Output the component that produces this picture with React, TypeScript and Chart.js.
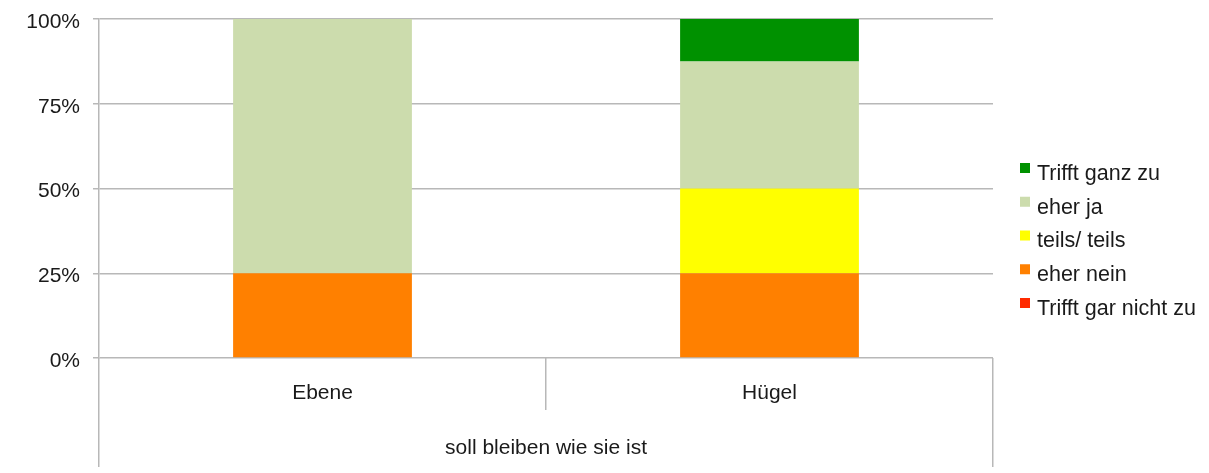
import React, { useEffect, useRef } from "react";
import { Chart, registerables } from "chart.js";

Chart.register(...registerables);

const categories = ["Ebene", "Hügel"];
const groupLabel = "soll bleiben wie sie ist";
const seriesNames = ["Trifft gar nicht zu", "eher nein", "teils/ teils", "eher ja", "Trifft ganz zu"];
const trifftGarNicht = [0, 0];
const eherNein = [25, 25];
const teilsTeils = [0, 25];
const eherJa = [75, 37.5];
const trifftGanz = [0, 12.5];
const seriesColors = ["#ff2a00", "#ff8000", "#ffff00", "#ccdcad", "#009100"];
const yTicks = [0, 25, 50, 75, 100];

const FONT = "'Liberation Sans', Arial, Helvetica, sans-serif";
const TEXT = "#1a1a1a";
const GRID = "#b8b8b8";

const legendPlugin = {
  id: "customLegend",
  afterDraw(chart: any) {
    const ctx = chart.ctx;
    const ds = chart.data.datasets;
    ctx.save();
    ctx.font = `21.5px ${FONT}`;
    ctx.textBaseline = "middle";
    ctx.textAlign = "left";
    const n = ds.length;
    for (let i = 0; i < n; i++) {
      const d = ds[n - 1 - i];
      const cy = 172 + i * 33.75;
      ctx.fillStyle = d.backgroundColor;
      ctx.fillRect(1020, cy - 9, 10, 10);
      ctx.fillStyle = TEXT;
      ctx.fillText(d.label, 1037, cy + 2);
    }
    ctx.restore();
  },
};

export default function App() {
  const ref = useRef<HTMLCanvasElement | null>(null);
  useEffect(() => {
    if (!ref.current) return;
    Chart.defaults.font.family = FONT;
    Chart.defaults.font.size = 21;
    Chart.defaults.color = TEXT;
    const values = [trifftGarNicht, eherNein, teilsTeils, eherJa, trifftGanz];
    const chart = new Chart(ref.current, {
      type: "bar",
      data: {
        labels: categories,
        datasets: seriesNames.map((name, i) => ({
          label: name,
          data: values[i],
          backgroundColor: seriesColors[i],
          borderWidth: 0,
          categoryPercentage: 1,
          barPercentage: 0.4,
        })),
      },
      options: {
        animation: false,
        responsive: true,
        maintainAspectRatio: false,
        layout: { padding: { top: 19, right: 216, bottom: 6, left: 0 } },
        plugins: { legend: { display: false }, tooltip: { enabled: false } },
        scales: {
          x: {
            stacked: true,
            weight: 0,
            offset: true,
            grid: { offset: true, drawOnChartArea: false, tickLength: 52, color: GRID, lineWidth: 1.5 },
            border: { display: false },
            ticks: { padding: -29, font: { size: 21 } },
            afterFit: (s: any) => { s.height = 52; s.paddingLeft = 0; s.paddingRight = 0; },
          },
          x2: {
            type: "category",
            labels: [groupLabel],
            position: "bottom",
            weight: 1,
            offset: true,
            grid: { offset: true, drawOnChartArea: false, tickLength: 57, color: GRID, lineWidth: 1.5 },
            border: { display: false },
            ticks: { padding: -31, font: { size: 21 } },
            afterFit: (s: any) => { s.height = 57; s.paddingLeft = 0; s.paddingRight = 0; },
          },
          y: {
            stacked: true,
            min: 0,
            max: 100,
            afterBuildTicks: (s: any) => { s.ticks = yTicks.map((v) => ({ value: v })); },
            ticks: { padding: 13, labelOffset: 3, callback: (v: any) => v + "%", font: { size: 21 } },
            grid: { color: GRID, lineWidth: 1.5, tickLength: 6 },
            border: { color: GRID, width: 1.5 },
            afterFit: (s: any) => { s.width = 99; s.paddingTop = 0; s.paddingBottom = 0; },
          },
        },
      } as any,
      plugins: [legendPlugin],
    });
    return () => chart.destroy();
  }, []);
  return (
    <div style={{ position: "fixed", left: 0, top: 0, width: 1209, height: 473, background: "#fff" }}>
      <canvas ref={ref} />
    </div>
  );
}
